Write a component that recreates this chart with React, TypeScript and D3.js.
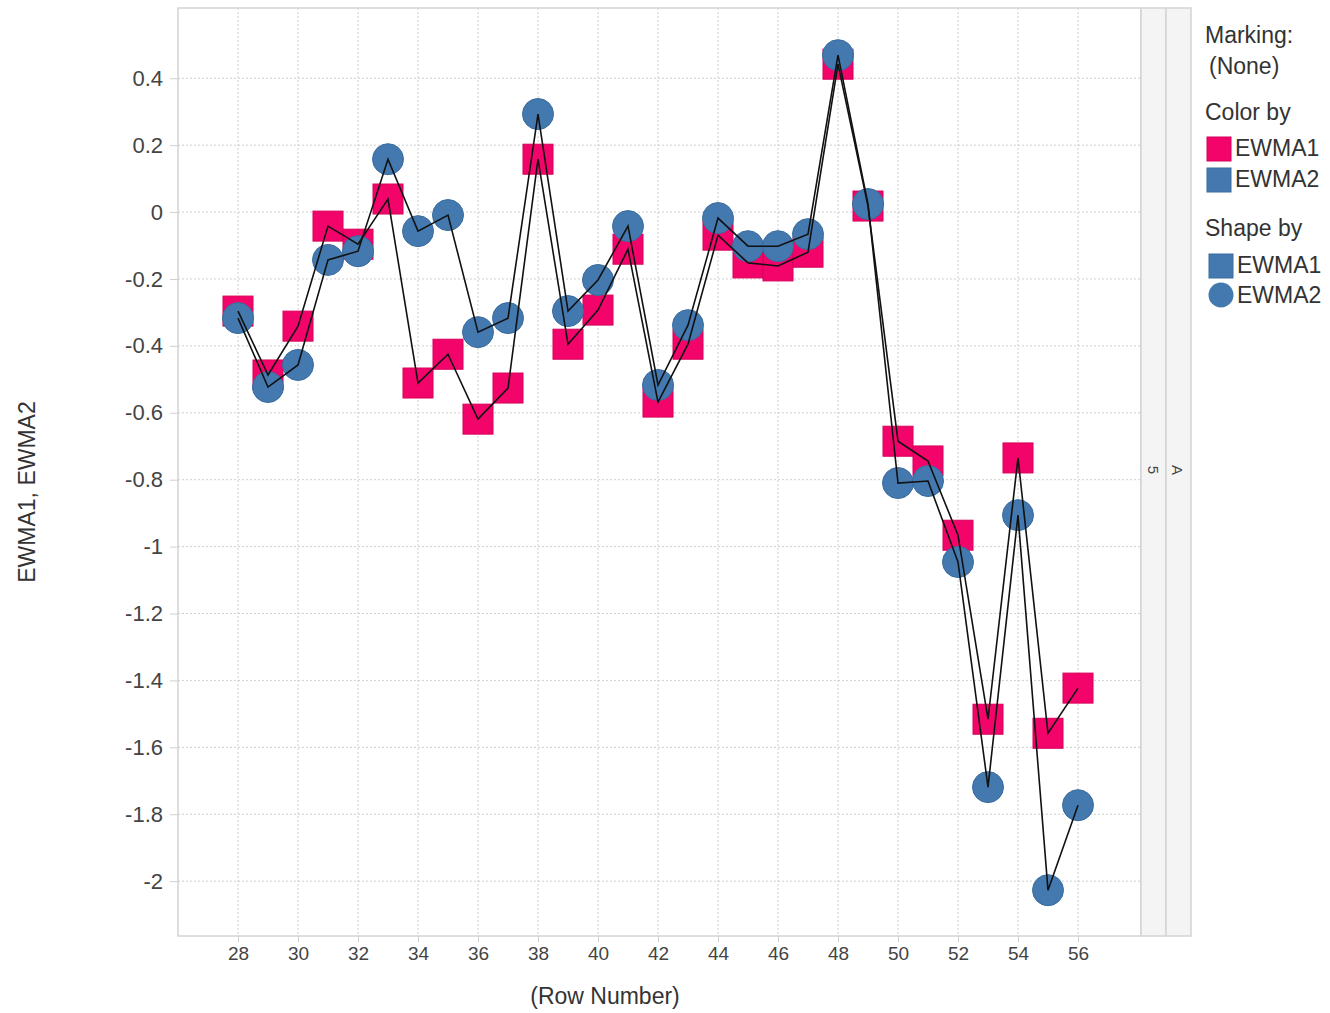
import { useEffect, useRef } from "react";
import * as d3 from "d3";

const rows = [28, 29, 30, 31, 32, 33, 34, 35, 36, 37, 38, 39, 40, 41, 42, 43, 44, 45, 46, 47, 48, 49, 50, 51, 52, 53, 54, 55, 56];
const ewma1 = [-0.296, -0.487, -0.341, -0.042, -0.096, 0.039, -0.511, -0.425, -0.619, -0.526, 0.158, -0.395, -0.293, -0.111, -0.568, -0.395, -0.069, -0.152, -0.161, -0.12, 0.442, 0.018, -0.685, -0.744, -0.966, -1.516, -0.735, -1.558, -1.423];
const ewma2 = [-0.317, -0.523, -0.457, -0.143, -0.117, 0.158, -0.057, -0.009, -0.359, -0.317, 0.293, -0.296, -0.203, -0.042, -0.517, -0.338, -0.018, -0.102, -0.102, -0.066, 0.469, 0.024, -0.81, -0.804, -1.046, -1.719, -0.906, -2.027, -1.773];
const xTicks = [28, 30, 32, 34, 36, 38, 40, 42, 44, 46, 48, 50, 52, 54, 56];
const yTicks = [0.4, 0.2, 0, -0.2, -0.4, -0.6, -0.8, -1, -1.2, -1.4, -1.6, -1.8, -2];

const PINK = "#F2046B";
const BLUE = "#4479AF";
const FONT = "'Liberation Sans', Arial, sans-serif";

export default function App() {
  const ref = useRef<SVGSVGElement>(null);

  useEffect(() => {
    const svg = d3.select(ref.current);
    svg.selectAll("*").remove();

    const left = 178, right = 1141, top = 8, bottom = 936;
    const x = d3.scaleLinear().domain([26, 58.1]).range([left, right]);
    const y = d3.scaleLinear().domain([-2.164, 0.61]).range([bottom, top]);

    // grid
    const grid = svg.append("g");
    xTicks.forEach((t) => {
      grid.append("line").attr("x1", x(t)).attr("x2", x(t)).attr("y1", top).attr("y2", bottom)
        .attr("stroke", "#cfcfcf").attr("stroke-dasharray", "2,2");
    });
    yTicks.forEach((t) => {
      grid.append("line").attr("x1", left).attr("x2", right).attr("y1", y(t)).attr("y2", y(t))
        .attr("stroke", "#cfcfcf").attr("stroke-dasharray", "2,2");
    });

    // frame
    svg.append("rect").attr("x", left).attr("y", top).attr("width", right - left).attr("height", bottom - top)
      .attr("fill", "none").attr("stroke", "#d4d4d4").attr("stroke-width", 1.5);

    // right strips
    svg.append("rect").attr("x", 1141).attr("y", top).attr("width", 25).attr("height", bottom - top)
      .attr("fill", "#f4f4f4").attr("stroke", "#d4d4d4").attr("stroke-width", 1.5);
    svg.append("rect").attr("x", 1166).attr("y", top).attr("width", 25).attr("height", bottom - top)
      .attr("fill", "#f4f4f4").attr("stroke", "#d4d4d4").attr("stroke-width", 1.5);
    svg.append("text").attr("transform", "translate(1148,470) rotate(90)").attr("text-anchor", "middle")
      .attr("font-family", FONT).attr("font-size", 15).attr("fill", "#444").text("5");
    svg.append("text").attr("transform", "translate(1172,470) rotate(90)").attr("text-anchor", "middle")
      .attr("font-family", FONT).attr("font-size", 15).attr("fill", "#444").text("A");

    // axes
    const fmt = (d: d3.NumberValue) => {
      const v = +d;
      return v === 0 ? "0" : String(+v.toFixed(1)).replace("\u2212", "-");
    };
    const yAxis = svg.append("g").attr("transform", `translate(${left},0)`)
      .call(d3.axisLeft(y).tickValues(yTicks).tickSize(8).tickPadding(7).tickFormat(fmt));
    const xAxis = svg.append("g").attr("transform", `translate(0,${bottom})`)
      .call(d3.axisBottom(x).tickValues(xTicks).tickSize(6).tickPadding(5));
    [yAxis, xAxis].forEach((a) => {
      a.select(".domain").remove();
      a.selectAll("line").attr("stroke", "#cfcfcf");
      a.selectAll("text").attr("font-family", FONT).attr("fill", "#444");
    });
    yAxis.selectAll("text").attr("font-size", 22);
    xAxis.selectAll("text").attr("font-size", 19);

    svg.append("text").attr("transform", "translate(35,492) rotate(-90)").attr("text-anchor", "middle")
      .attr("font-family", FONT).attr("font-size", 23).attr("fill", "#333").text("EWMA1, EWMA2");
    svg.append("text").attr("x", 605).attr("y", 1004).attr("text-anchor", "middle")
      .attr("font-family", FONT).attr("font-size", 23).attr("fill", "#333").text("(Row Number)");

    // markers
    const s = 30;
    svg.append("g").selectAll("rect").data(rows).join("rect")
      .attr("x", (d) => x(d) - s / 2).attr("y", (d, i) => y(ewma1[i]) - s / 2)
      .attr("width", s).attr("height", s).attr("fill", PINK).attr("stroke", "#d8005a").attr("stroke-width", 1);
    svg.append("g").selectAll("circle").data(rows).join("circle")
      .attr("cx", (d) => x(d)).attr("cy", (d, i) => y(ewma2[i])).attr("r", 15.5)
      .attr("fill", BLUE).attr("stroke", "#3a6c9e").attr("stroke-width", 1);

    // lines
    const line = d3.line<number>().x((d, i) => x(rows[i])).y((d) => y(d));
    [ewma1, ewma2].forEach((vals) => {
      svg.append("path").datum(vals).attr("d", line).attr("fill", "none")
        .attr("stroke", "#111").attr("stroke-width", 1.6);
    });

    // legend
    const lg = svg.append("g").attr("font-family", FONT);
    const txt = (tx: number, ty: number, t: string, size = 23) =>
      lg.append("text").attr("x", tx).attr("y", ty).attr("font-size", size).attr("fill", "#333").text(t);
    txt(1205, 43, "Marking:");
    txt(1209, 74, "(None)");
    txt(1205, 120, "Color by");
    lg.append("rect").attr("x", 1207).attr("y", 137).attr("width", 24).attr("height", 24).attr("fill", PINK).attr("stroke", "#d8005a");
    txt(1235, 156, "EWMA1");
    lg.append("rect").attr("x", 1207).attr("y", 168).attr("width", 24).attr("height", 24).attr("fill", BLUE).attr("stroke", "#3a6c9e");
    txt(1235, 187, "EWMA2");
    txt(1205, 236, "Shape by");
    lg.append("rect").attr("x", 1209).attr("y", 254).attr("width", 24).attr("height", 24).attr("fill", BLUE).attr("stroke", "#3a6c9e");
    txt(1237, 273, "EWMA1");
    lg.append("circle").attr("cx", 1221).attr("cy", 295).attr("r", 12.5).attr("fill", BLUE);
    txt(1237, 303, "EWMA2");
  }, []);

  return (
    <svg ref={ref} width={1330} height={1013}
      style={{ position: "absolute", left: 0, top: 0, background: "#fff" }} />
  );
}
